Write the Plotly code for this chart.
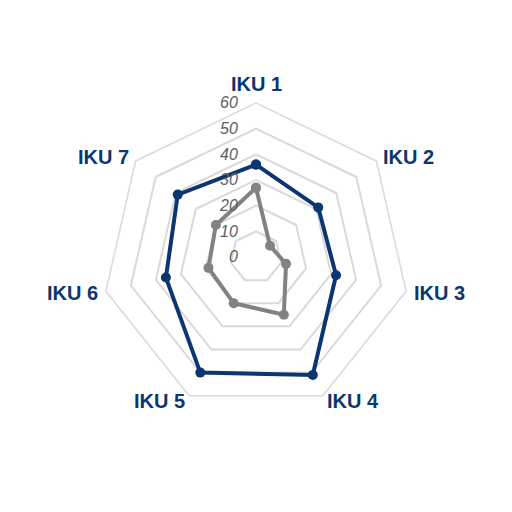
import math
import plotly.graph_objects as go

categories = ["IKU 1", "IKU 2", "IKU 3", "IKU 4", "IKU 5", "IKU 6", "IKU 7"]
series_navy = [36, 31, 32, 51, 50, 36, 39]
series_gray = [27, 7, 12, 25, 20, 19, 20]
radial_ticks = [0, 10, 20, 30, 40, 50, 60]

NAVY = "#0b3671"
GRAY = "#828282"
FONT = "Liberation Sans, Arial, sans-serif"

W = H = 512
ML, MR, MT, MB = 102, 102, 103, 101
PLOT_W = W - ML - MR

def closed(vals):
    return vals + vals[:1]

fig = go.Figure()
fig.add_trace(go.Scatterpolar(
    r=closed(series_navy), theta=closed(categories), mode="lines+markers",
    line=dict(color=NAVY, width=4), marker=dict(color=NAVY, size=10),
    showlegend=False, hoverinfo="skip"))
fig.add_trace(go.Scatterpolar(
    r=closed(series_gray), theta=closed(categories), mode="lines+markers",
    line=dict(color=GRAY, width=4), marker=dict(color=GRAY, size=10),
    showlegend=False, hoverinfo="skip"))

# Category labels placed just outside the outer ring (chart.js-like point labels)
n = len(categories)
pad = 6.0 / PLOT_W
annotations = []
for i, name in enumerate(categories):
    ang = 2 * math.pi * i / n
    s, c = math.sin(ang), math.cos(ang)
    rr = 0.5 + pad
    x = 0.5 + rr * s
    y = 0.5 + rr * c
    if abs(s) < 1e-6:
        xa = "center"
    elif s > 0:
        xa = "left"
    else:
        xa = "right"
    ya = "bottom" if i == 0 else "middle"
    annotations.append(dict(
        text=name, x=x, y=y, xref="paper", yref="paper",
        xanchor=xa, yanchor=ya, showarrow=False,
        font=dict(size=20, color=NAVY, family=FONT, weight="bold")))

fig.update_layout(
    width=W, height=H,
    margin=dict(l=ML, r=MR, t=MT, b=MB),
    paper_bgcolor="white",
    font=dict(family=FONT),
    annotations=annotations,
    polar=dict(
        bgcolor="white",
        gridshape="linear",
        angularaxis=dict(
            direction="clockwise", rotation=90,
            showgrid=False, showline=True, linecolor="#d9d9d9", linewidth=1.5,
            ticks="", showticklabels=False,
        ),
        radialaxis=dict(
            range=[0, 60], tickvals=radial_ticks, angle=90,
            showline=False, showgrid=True, gridcolor="#d9d9d9", gridwidth=1.5,
            side="counterclockwise", ticks="outside", ticklen=12, tickcolor="rgba(0,0,0,0)",
            tickangle=90,
            tickfont=dict(size=16, color="#606060", style="italic"),
        ),
    ),
)

fig.write_html("out.html")
